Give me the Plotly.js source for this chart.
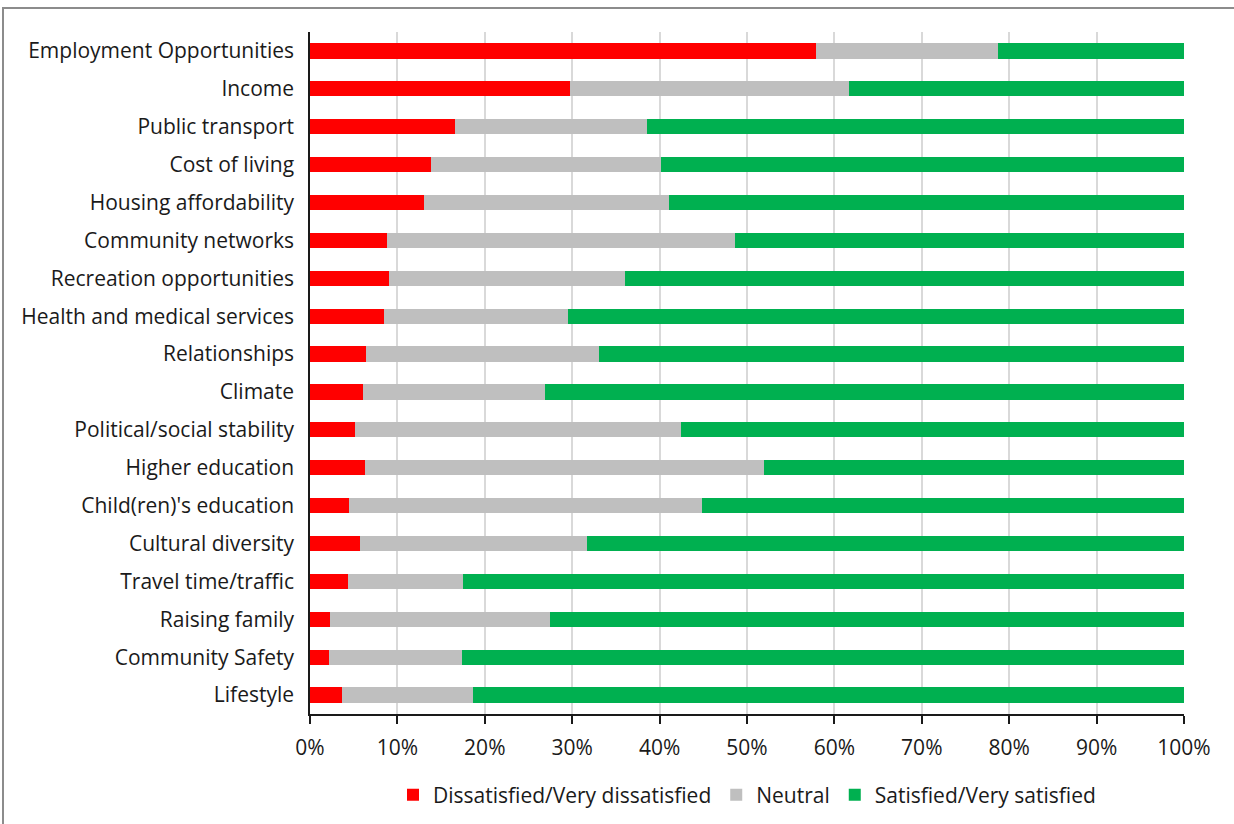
<!DOCTYPE html>
<html>
<head>
<meta charset="utf-8">
<script src="https://cdn.plot.ly/plotly-3.0.1.min.js"></script>
<style>
html,body{margin:0;padding:0;background:#fff;overflow:hidden;width:1234px;height:824px;}
#chart{position:absolute;left:0;top:0;width:1234px;height:824px;}
#frame{position:absolute;left:2px;top:7px;width:1240px;height:830px;border:2px solid #8c8c8c;box-sizing:border-box;pointer-events:none;}
</style>
</head>
<body>
<div id="chart"></div>
<div id="frame"></div>
<script>
const categories = [
  "Employment Opportunities","Income","Public transport","Cost of living",
  "Housing affordability","Community networks","Recreation opportunities",
  "Health and medical services","Relationships","Climate",
  "Political/social stability","Higher education","Child(ren)'s education",
  "Cultural diversity","Travel time/traffic","Raising family",
  "Community Safety","Lifestyle"
];
const dissatisfied = [57.9,29.7,16.6,13.9,13.0,8.8,9.0,8.5,6.4,6.1,5.1,6.3,4.5,5.7,4.4,2.3,2.2,3.7];
const neutral      = [20.8,32.0,22.0,26.3,28.1,39.8,27.0,21.0,26.7,20.8,37.4,45.6,40.3,26.0,13.1,25.2,15.2,15.0];
const satisfied    = [21.3,38.3,61.4,59.8,58.9,51.4,64.0,70.5,66.9,73.1,57.5,48.1,55.2,68.3,82.5,72.5,82.6,81.3];
const seriesNames = ["Dissatisfied/Very dissatisfied","Neutral","Satisfied/Very satisfied"];
const tickVals = [0,10,20,30,40,50,60,70,80,90,100];
const tickText = ["0%","10%","20%","30%","40%","50%","60%","70%","80%","90%","100%"];

const colors = ["#FF0000","#BFBFBF","#00B050"];
const font = "'Open Sans', Lato, sans-serif";
const data = [dissatisfied, neutral, satisfied].map((vals, i) => ({
  type: "bar",
  orientation: "h",
  name: seriesNames[i],
  y: categories,
  x: vals,
  width: 0.4,
  marker: {color: colors[i], line: {width: 0}},
  hoverinfo: "x+y+name"
}));

const layout = {
  width: 1234, height: 824,
  margin: {l: 310, r: 50, t: 32, b: 110, pad: 0, autoexpand: false},
  barmode: "stack",
  paper_bgcolor: "rgba(0,0,0,0)",
  plot_bgcolor: "#fff",
  font: {family: font, color: "#1a1a1a", size: 21},
  xaxis: {
    range: [0, 100],
    tickvals: tickVals, ticktext: tickText,
    showgrid: true, gridcolor: "#d9d9d9", gridwidth: 1.5,
    showline: true, linecolor: "#1a1a1a", linewidth: 1.5,
    ticks: "outside", ticklen: 8, tickcolor: "#1a1a1a", tickwidth: 1.5,
    ticklabelstandoff: 6,
    zeroline: false, automargin: false,
    tickfont: {size: 21, family: font, color: "#1a1a1a"},
    fixedrange: true
  },
  yaxis: {
    type: "category",
    categoryorder: "array", categoryarray: categories,
    autorange: "reversed",
    showline: true, linecolor: "#1a1a1a", linewidth: 1.5,
    ticks: "", showgrid: false, zeroline: false, automargin: false,
    ticklabelstandoff: 10,
    tickfont: {size: 21, family: font, color: "#1a1a1a"},
    fixedrange: true
  },
  legend: {
    orientation: "h", x: 0.5, xanchor: "center",
    yref: "container", y: 0.035, yanchor: "middle",
    font: {size: 21, family: font, color: "#1a1a1a"},
    traceorder: "normal", itemclick: false, itemdoubleclick: false
  },
  showlegend: true
};

Plotly.newPlot("chart", data, layout, {displayModeBar: false, staticPlot: false});
</script>
</body>
</html>
